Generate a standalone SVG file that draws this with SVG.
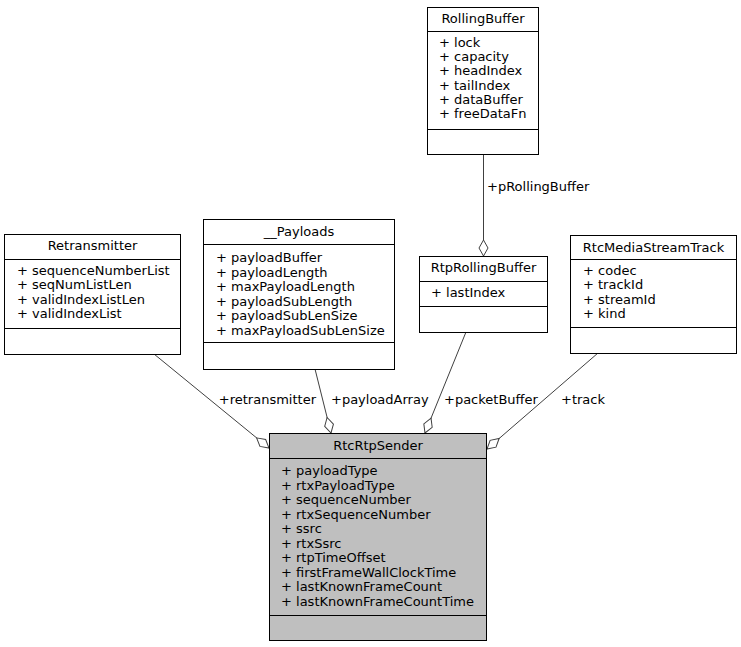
<svg xmlns="http://www.w3.org/2000/svg" width="741" height="647" viewBox="0 0 741 647">
<style>
.box{fill:#ffffff;stroke:#000000;stroke-width:1}
.sel{fill:#bfbfbf;stroke:#000000;stroke-width:1}
.sep{stroke:#000000;stroke-width:1}
text{font-family:"DejaVu Sans",sans-serif;font-size:13px;fill:#000000}
.c{text-anchor:middle}
.edge{stroke:#404040;stroke-width:1;fill:none;marker-end:url(#dia)}
</style>
<defs>
<marker id="dia" markerUnits="userSpaceOnUse" markerWidth="18" markerHeight="12" viewBox="-1 -6 18 12" refX="16" refY="0" orient="auto">
<path d="M0,0 L8,-4.5 L16,0 L8,4.5 Z" fill="#ffffff" stroke="#404040" stroke-width="1"/>
</marker>
</defs>
<rect width="741" height="647" fill="#ffffff"/>
<g id="connectors">
<line class="edge" x1="483.5" y1="155" x2="483.5" y2="256"/>
<text x="487" y="191">+pRollingBuffer</text>
<line class="edge" x1="154" y1="354" x2="269" y2="448"/>
<text x="316" y="404" text-anchor="end">+retransmitter</text>
<line class="edge" x1="315" y1="369" x2="331" y2="433"/>
<text x="331" y="404">+payloadArray</text>
<line class="edge" x1="466" y1="332" x2="425" y2="433"/>
<text x="444" y="404">+packetBuffer</text>
<line class="edge" x1="598" y1="353" x2="487" y2="449"/>
<text x="561" y="404">+track</text>
</g>
<g id="RollingBuffer">
<rect class="box" x="427.5" y="7.5" width="111" height="147"/>
<line class="sep" x1="427.5" y1="31.5" x2="538.5" y2="31.5"/>
<line class="sep" x1="427.5" y1="129.5" x2="538.5" y2="129.5"/>
<text class="c" x="483" y="23">RollingBuffer</text>
<text x="439" y="47">+ lock</text>
<text x="439" y="61.2">+ capacity</text>
<text x="439" y="75.4">+ headIndex</text>
<text x="439" y="89.6">+ tailIndex</text>
<text x="439" y="103.8">+ dataBuffer</text>
<text x="439" y="118">+ freeDataFn</text>
</g>
<g id="Retransmitter">
<rect class="box" x="4.5" y="234.5" width="176" height="120"/>
<line class="sep" x1="4.5" y1="259.5" x2="180.5" y2="259.5"/>
<line class="sep" x1="4.5" y1="328.5" x2="180.5" y2="328.5"/>
<text class="c" x="92.5" y="250">Retransmitter</text>
<text x="17" y="275">+ sequenceNumberList</text>
<text x="17" y="289.4">+ seqNumListLen</text>
<text x="17" y="303.8">+ validIndexListLen</text>
<text x="17" y="318.2">+ validIndexList</text>
</g>
<g id="Payloads">
<rect class="box" x="203.5" y="219.5" width="191" height="150"/>
<line class="sep" x1="203.5" y1="244.5" x2="394.5" y2="244.5"/>
<line class="sep" x1="203.5" y1="342.5" x2="394.5" y2="342.5"/>
<text class="c" x="299" y="236">__Payloads</text>
<text x="216" y="262">+ payloadBuffer</text>
<text x="216" y="276.5">+ payloadLength</text>
<text x="216" y="291">+ maxPayloadLength</text>
<text x="216" y="305.5">+ payloadSubLength</text>
<text x="216" y="320">+ payloadSubLenSize</text>
<text x="216" y="334.5">+ maxPayloadSubLenSize</text>
</g>
<g id="RtpRollingBuffer">
<rect class="box" x="419.5" y="256.5" width="128" height="76"/>
<line class="sep" x1="419.5" y1="281.5" x2="547.5" y2="281.5"/>
<line class="sep" x1="419.5" y1="306.5" x2="547.5" y2="306.5"/>
<text class="c" x="483.5" y="272">RtpRollingBuffer</text>
<text x="431" y="297">+ lastIndex</text>
</g>
<g id="RtcMediaStreamTrack">
<rect class="box" x="570.5" y="235.5" width="166" height="118"/>
<line class="sep" x1="570.5" y1="259.5" x2="736.5" y2="259.5"/>
<line class="sep" x1="570.5" y1="327.5" x2="736.5" y2="327.5"/>
<text class="c" x="653.5" y="252">RtcMediaStreamTrack</text>
<text x="583" y="275">+ codec</text>
<text x="583" y="289.4">+ trackId</text>
<text x="583" y="303.8">+ streamId</text>
<text x="583" y="318.2">+ kind</text>
</g>
<g id="RtcRtpSender">
<rect class="sel" x="269.5" y="433.5" width="217" height="207"/>
<line class="sep" x1="269.5" y1="458.5" x2="486.5" y2="458.5"/>
<line class="sep" x1="269.5" y1="615.5" x2="486.5" y2="615.5"/>
<text class="c" x="378" y="450">RtcRtpSender</text>
<text x="281" y="475">+ payloadType</text>
<text x="281" y="489.5">+ rtxPayloadType</text>
<text x="281" y="504">+ sequenceNumber</text>
<text x="281" y="518.5">+ rtxSequenceNumber</text>
<text x="281" y="533">+ ssrc</text>
<text x="281" y="547.5">+ rtxSsrc</text>
<text x="281" y="562">+ rtpTimeOffset</text>
<text x="281" y="576.5">+ firstFrameWallClockTime</text>
<text x="281" y="591">+ lastKnownFrameCount</text>
<text x="281" y="605.5">+ lastKnownFrameCountTime</text>
</g>
</svg>
